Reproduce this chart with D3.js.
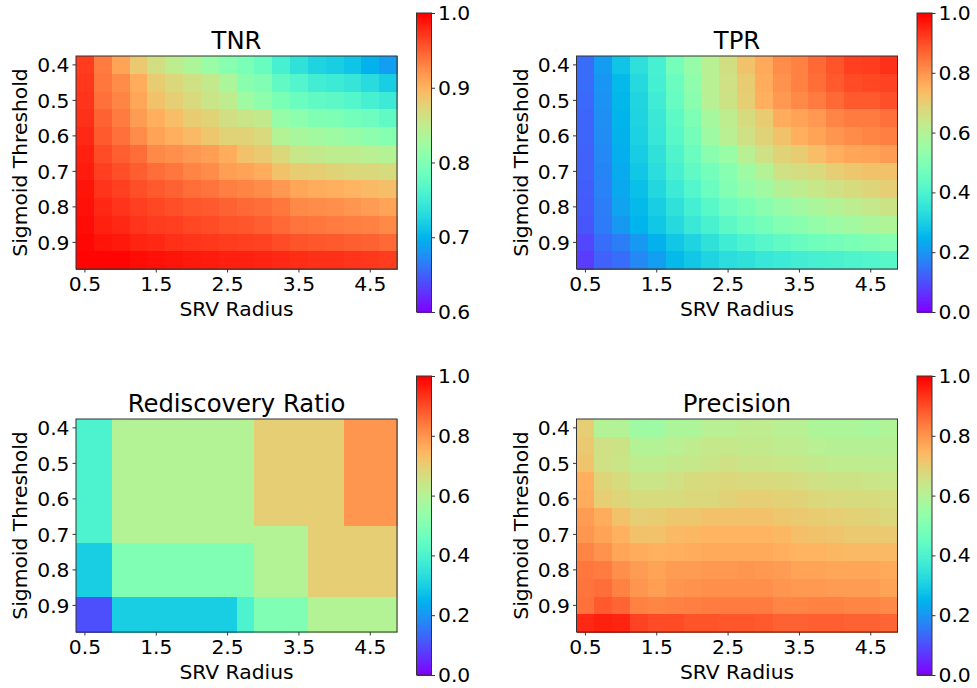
<!DOCTYPE html>
<html>
<head>
<meta charset="utf-8">
<script src="https://cdn.jsdelivr.net/npm/d3@7"></script>
<style>
  html, body { margin: 0; padding: 0; background: #fff; }
  text { font-family: "DejaVu Sans", sans-serif; fill: #000; }
</style>
</head>
<body>
<svg id="chart" width="977" height="688"></svg>
<script>
const radii = [0.5, 0.75, 1, 1.25, 1.5, 1.75, 2, 2.25, 2.5, 2.75, 3, 3.25, 3.5, 3.75, 4, 4.25, 4.5, 4.75];
const thresholds = [0.4, 0.45, 0.5, 0.55, 0.6, 0.65, 0.7, 0.75, 0.8, 0.85, 0.9, 0.95];
const radiusTicks = [0.5, 1.5, 2.5, 3.5, 4.5];
const thresholdTicks = [0.4, 0.5, 0.6, 0.7, 0.8, 0.9];

const tnrValues = [
  [.97,.936,.912,.884,.864,.848,.836,.82,.806,.796,.782,.756,.738,.724,.72,.712,.698,.686],
  [.972,.938,.926,.906,.882,.872,.862,.852,.834,.808,.80,.776,.764,.752,.748,.742,.732,.72],
  [.974,.942,.93,.91,.89,.88,.87,.858,.848,.824,.812,.796,.784,.776,.772,.766,.756,.748],
  [.976,.95,.936,.916,.904,.894,.882,.876,.864,.858,.852,.818,.81,.80,.798,.79,.786,.776],
  [.98,.954,.942,.926,.912,.904,.896,.886,.876,.876,.87,.84,.832,.828,.824,.818,.81,.804],
  [.984,.962,.952,.944,.928,.924,.918,.914,.906,.89,.884,.872,.856,.852,.848,.848,.844,.84],
  [.986,.968,.96,.952,.944,.938,.93,.926,.914,.912,.906,.89,.882,.88,.876,.872,.872,.868],
  [.99,.974,.968,.96,.954,.95,.944,.94,.934,.93,.926,.918,.91,.906,.904,.9,.896,.892],
  [.992,.98,.974,.968,.964,.96,.956,.954,.95,.946,.944,.938,.928,.926,.924,.92,.916,.912],
  [.994,.984,.98,.974,.97,.968,.964,.962,.958,.956,.952,.946,.94,.938,.936,.934,.932,.928],
  [.996,.99,.988,.982,.98,.976,.974,.972,.97,.968,.966,.962,.958,.956,.954,.952,.95,.946],
  [.998,.998,.998,.994,.992,.99,.988,.986,.984,.984,.982,.98,.978,.976,.976,.974,.972,.97]
];

const tprValues = [
  [.14,.21,.28,.34,.39,.48,.545,.61,.66,.725,.77,.815,.83,.865,.895,.92,.925,.94],
  [.14,.2,.26,.325,.385,.46,.53,.61,.655,.705,.765,.805,.83,.86,.885,.905,.91,.915],
  [.135,.195,.255,.315,.375,.45,.52,.61,.65,.70,.76,.795,.82,.84,.865,.885,.885,.90],
  [.13,.19,.25,.31,.365,.435,.495,.575,.62,.67,.705,.765,.78,.795,.825,.84,.84,.855],
  [.13,.185,.245,.305,.36,.425,.48,.56,.61,.655,.69,.725,.76,.78,.80,.815,.825,.835],
  [.125,.18,.24,.295,.345,.405,.46,.52,.55,.61,.655,.69,.705,.735,.76,.775,.78,.79],
  [.125,.175,.235,.285,.335,.39,.44,.475,.515,.56,.60,.655,.665,.675,.70,.715,.725,.725],
  [.12,.17,.23,.27,.32,.37,.415,.46,.505,.54,.565,.605,.62,.64,.655,.67,.685,.7],
  [.115,.165,.22,.26,.3,.345,.385,.425,.465,.49,.52,.545,.565,.585,.6,.62,.635,.65],
  [.11,.16,.205,.25,.285,.325,.365,.395,.43,.46,.48,.505,.52,.54,.555,.57,.585,.595],
  [.09,.14,.165,.205,.245,.285,.31,.345,.375,.4,.42,.44,.455,.47,.48,.49,.5,.515],
  [.075,.125,.14,.18,.215,.26,.285,.31,.335,.345,.36,.37,.38,.39,.395,.405,.41,.42]
];

const rediscoveryValues = [
  [.4,.4,.6,.6,.6,.6,.6,.6,.6,.6,.7,.7,.7,.7,.7,.8,.8,.8],
  [.4,.4,.6,.6,.6,.6,.6,.6,.6,.6,.7,.7,.7,.7,.7,.8,.8,.8],
  [.4,.4,.6,.6,.6,.6,.6,.6,.6,.6,.7,.7,.7,.7,.7,.8,.8,.8],
  [.4,.4,.6,.6,.6,.6,.6,.6,.6,.6,.7,.7,.7,.7,.7,.8,.8,.8],
  [.4,.4,.6,.6,.6,.6,.6,.6,.6,.6,.7,.7,.7,.7,.7,.8,.8,.8],
  [.4,.4,.6,.6,.6,.6,.6,.6,.6,.6,.7,.7,.7,.7,.7,.8,.8,.8],
  [.4,.4,.6,.6,.6,.6,.6,.6,.6,.6,.6,.6,.6,.7,.7,.7,.7,.7],
  [.3,.3,.5,.5,.5,.5,.5,.5,.5,.5,.6,.6,.6,.7,.7,.7,.7,.7],
  [.3,.3,.5,.5,.5,.5,.5,.5,.5,.5,.6,.6,.6,.7,.7,.7,.7,.7],
  [.3,.3,.5,.5,.5,.5,.5,.5,.5,.5,.6,.6,.6,.7,.7,.7,.7,.7],
  [.1,.1,.3,.3,.3,.3,.3,.3,.3,.4,.5,.5,.5,.6,.6,.6,.6,.6],
  [.1,.1,.3,.3,.3,.3,.3,.3,.3,.4,.5,.5,.5,.6,.6,.6,.6,.6]
];

const precisionValues = [
  [.70,.60,.60,.56,.56,.59,.59,.61,.61,.625,.625,.61,.61,.59,.59,.59,.58,.595],
  [.71,.655,.65,.60,.60,.61,.625,.635,.635,.63,.63,.625,.62,.61,.605,.605,.605,.605],
  [.72,.655,.645,.62,.62,.63,.635,.645,.655,.645,.645,.64,.635,.63,.625,.625,.62,.62],
  [.76,.685,.67,.645,.645,.655,.67,.675,.68,.675,.675,.67,.665,.655,.65,.65,.645,.64],
  [.765,.70,.685,.67,.67,.67,.68,.68,.69,.70,.70,.695,.69,.68,.675,.67,.67,.665],
  [.79,.765,.725,.70,.705,.715,.715,.725,.725,.725,.725,.715,.71,.705,.70,.695,.69,.68],
  [.80,.78,.755,.725,.725,.74,.745,.75,.75,.75,.75,.745,.73,.725,.72,.71,.71,.71],
  [.825,.805,.775,.765,.755,.76,.765,.77,.77,.77,.77,.76,.75,.75,.745,.74,.74,.74],
  [.845,.84,.81,.79,.78,.79,.79,.795,.795,.80,.795,.79,.78,.78,.775,.775,.775,.77],
  [.85,.86,.83,.80,.785,.80,.805,.81,.81,.81,.81,.80,.795,.795,.79,.79,.79,.78],
  [.855,.885,.87,.83,.825,.83,.835,.84,.84,.84,.84,.825,.825,.83,.83,.825,.825,.82],
  [.95,.96,.955,.915,.905,.905,.895,.895,.89,.89,.885,.875,.875,.88,.88,.875,.875,.87]
];

const tnrTicks = [0.6, 0.7, 0.8, 0.9, 1.0];
const unitTicks = [0, 0.2, 0.4, 0.6, 0.8, 1.0];

// matplotlib's "rainbow" colormap
function rainbow(t) {
  const r = Math.min(1, Math.abs(2 * t - 0.5));
  const g = Math.sin(Math.PI * t);
  const b = Math.cos(Math.PI * t / 2);
  return d3.rgb(r * 255, g * 255, b * 255).formatHex();
}

const svg = d3.select('#chart');
const plotW = 321, plotH = 213;
const barGap = 19.5, barW = 15, barTop = 43, barH = 299;
const spine = '#333';
const tickFont = '20.3px';

function drawPanel(left, top, title, values, domain, barTicks) {
  const x = d3.scaleBand().domain(radii).range([0, plotW]);
  const y = d3.scaleBand().domain(thresholds).range([0, plotH]);
  const color = d3.scaleSequential(rainbow).domain(domain);

  const g = svg.append('g').attr('transform', `translate(${left},${top})`);

  g.selectAll('g.row')
    .data(values)
    .enter()
    .append('g')
    .attr('class', 'row')
    .each(function (row, i) {
      d3.select(this).selectAll('rect')
        .data(row)
        .enter()
        .append('rect')
        .attr('x', (d, j) => x(radii[j]))
        .attr('y', y(thresholds[i]))
        .attr('width', x.bandwidth() + 0.5)
        .attr('height', y.bandwidth() + 0.5)
        .attr('shape-rendering', 'crispEdges')
        .attr('fill', d => color(d));
    });

  g.append('rect')
    .attr('width', plotW)
    .attr('height', plotH)
    .attr('fill', 'none')
    .attr('stroke', spine);

  const xAxis = g.append('g')
    .attr('transform', `translate(0,${plotH})`)
    .call(d3.axisBottom(x).tickValues(radiusTicks).tickFormat(d3.format('.1f')).tickSize(3.5).tickPadding(4));
  const yAxis = g.append('g')
    .call(d3.axisLeft(y).tickValues(thresholdTicks).tickFormat(d3.format('.1f')).tickSize(3.5).tickPadding(3));
  yAxis.selectAll('text').attr('dy', '0.37em');
  [xAxis, yAxis].forEach(a => {
    a.select('.domain').remove();
    a.attr('font-family', null).attr('font-size', null);
    a.selectAll('text').style('font-size', tickFont);
    a.selectAll('line').attr('stroke', spine);
  });

  g.append('text')
    .attr('x', plotW / 2)
    .attr('y', -7)
    .attr('text-anchor', 'middle')
    .style('font-size', '24.3px')
    .text(title);

  g.append('text')
    .attr('x', plotW / 2)
    .attr('y', plotH + 47)
    .attr('text-anchor', 'middle')
    .style('font-size', tickFont)
    .text('SRV Radius');

  g.append('text')
    .attr('transform', `translate(-49,${plotH / 2}) rotate(-90)`)
    .attr('text-anchor', 'middle')
    .style('font-size', tickFont)
    .text('Sigmoid Threshold');

  // colorbar
  const barScale = d3.scaleLinear().domain(domain).range([barH, 0]);
  const bar = g.append('g').attr('transform', `translate(${plotW + barGap},${-barTop})`);
  const levels = d3.range(256).map(i => domain[0] + (domain[1] - domain[0]) * i / 255);
  const step = barH / 256;
  bar.selectAll('rect')
    .data(levels)
    .enter()
    .append('rect')
    .attr('x', 0)
    .attr('y', d => barScale(d) * 255 / 256)
    .attr('width', barW)
    .attr('height', step + 0.5)
    .attr('shape-rendering', 'crispEdges')
    .attr('fill', d => color(d));
  bar.append('rect')
    .attr('width', barW)
    .attr('height', barH)
    .attr('fill', 'none')
    .attr('stroke', spine);
  const barAxis = bar.append('g')
    .attr('transform', `translate(${barW},0)`)
    .call(d3.axisRight(barScale).tickValues(barTicks).tickFormat(d3.format('.1f')).tickSize(3.5).tickPadding(3));
  barAxis.select('.domain').remove();
  barAxis.attr('font-family', null).attr('font-size', null);
  barAxis.selectAll('text').style('font-size', tickFont);
  barAxis.selectAll('line').attr('stroke', spine);
}

drawPanel(76, 56, 'TNR', tnrValues, [0.6, 1], tnrTicks);
drawPanel(576.5, 56, 'TPR', tprValues, [0, 1], unitTicks);
drawPanel(76, 419, 'Rediscovery Ratio', rediscoveryValues, [0, 1], unitTicks);
drawPanel(576.5, 419, 'Precision', precisionValues, [0, 1], unitTicks);
</script>
</body>
</html>
